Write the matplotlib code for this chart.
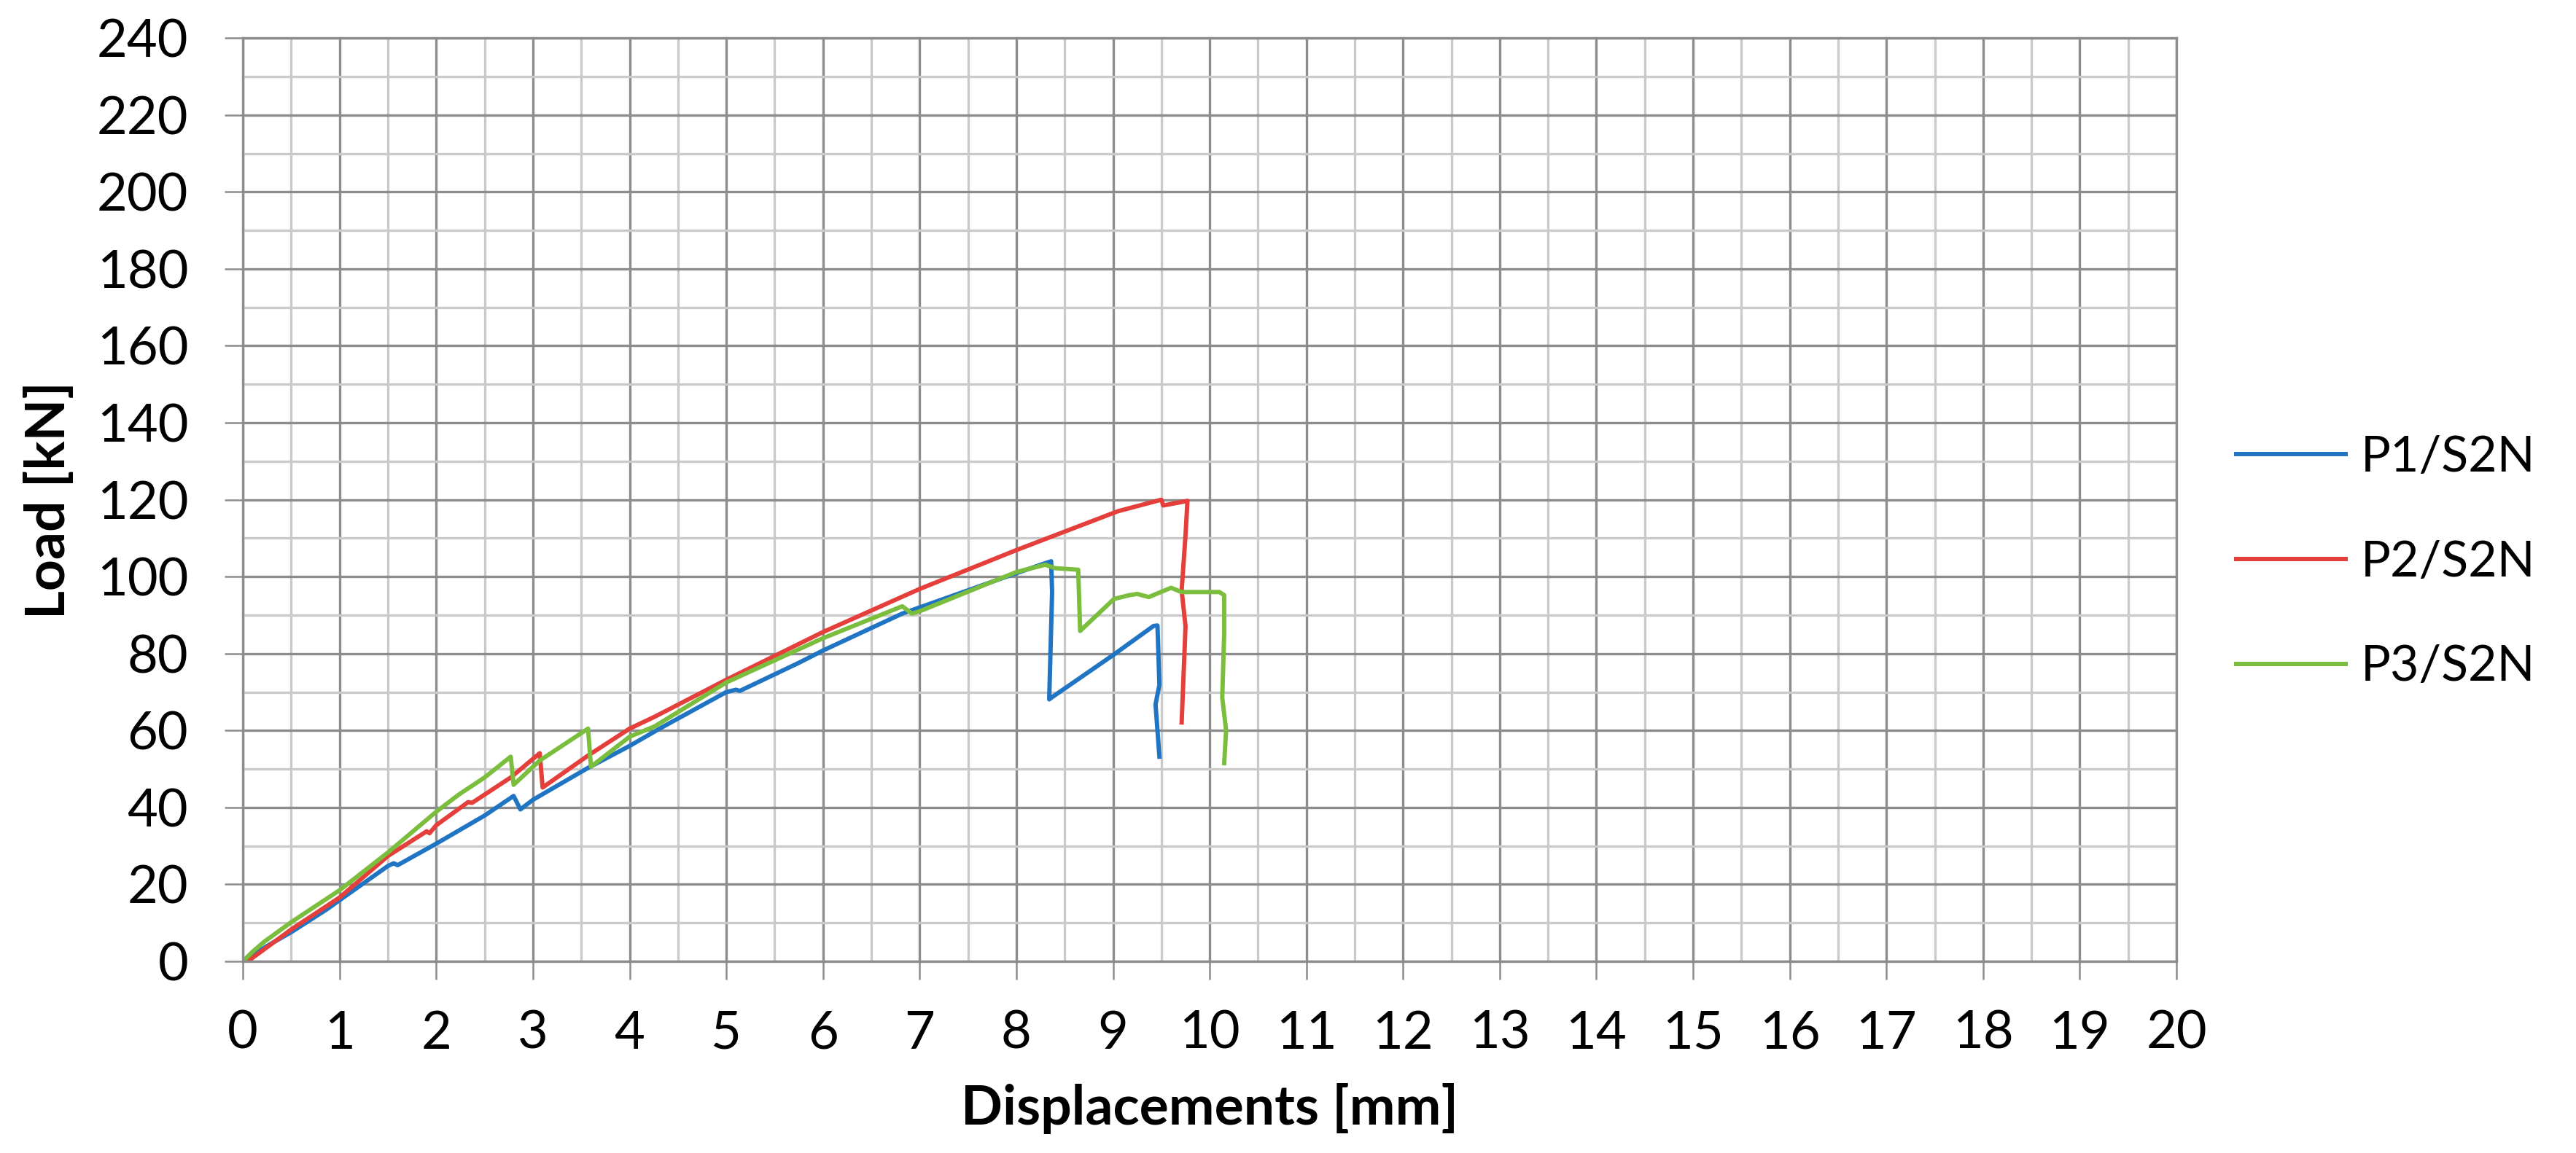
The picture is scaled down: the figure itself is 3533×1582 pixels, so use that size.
import matplotlib
matplotlib.use("Agg")
import matplotlib.pyplot as plt
from matplotlib.ticker import MultipleLocator

# Data (displacement in mm, load in kN)
p1_x = [0, 0.25, 0.5, 0.86, 1.0, 1.5, 1.56, 1.6, 2.0, 2.5, 2.8, 2.87, 3.0, 3.57, 4.0,
        4.31, 5.0, 5.1, 5.14, 5.75, 6.0, 6.82, 7.0, 8.0, 8.3, 8.36, 8.37, 8.34, 8.36,
        9.0, 9.42, 9.46, 9.48, 9.44, 9.48]
p1_y = [0, 4, 7.6, 13.4, 15.9, 24.8, 25.5, 25.0, 30.6, 37.9, 43, 39.5, 42, 50.3, 56,
        60.5, 70, 70.6, 70.3, 77.6, 80.8, 90.4, 92, 100.9, 103.5, 104, 96, 68.1, 68.5,
        79.6, 87.2, 87.3, 71.9, 66.8, 53.2]

p2_x = [0.05, 0.5, 1.0, 1.5, 1.9, 1.93, 2.0, 2.33, 2.37, 2.77, 3.07, 3.1, 3.57, 4.0,
        4.26, 5.0, 6.0, 7.0, 8.0, 9.05, 9.5, 9.52, 9.77, 9.75, 9.71, 9.75, 9.71]
p2_y = [0, 8.3, 16.6, 27.4, 33.8, 33.3, 35.4, 41.4, 41.2, 47.8, 54.1, 45.2, 53.5, 60.5,
        63.6, 73.2, 85.6, 96.8, 106.9, 117, 120, 118.5, 119.7, 110.8, 96.4, 87.1, 62.1]

p3_x = [0, 0.1, 0.22, 0.5, 1.0, 1.5, 2.0, 2.23, 2.5, 2.77, 2.80, 3.07, 3.57, 3.60, 4.0,
        4.26, 5.0, 6.0, 6.82, 6.92, 7.0, 8.0, 8.3, 8.4, 8.64, 8.66, 9.01, 9.17, 9.25,
        9.37, 9.6, 9.71, 10.1, 10.15, 10.15, 10.13, 10.17, 10.15]
p3_y = [0, 2.5, 5.1, 10.2, 18.5, 28.3, 38.9, 43.3, 47.8, 53.2, 45.9, 52.2, 60.5, 50.6, 58.4,
        61.1, 72.5, 84, 92.3, 90.4, 91, 101.2, 103.1, 102.2, 101.8, 85.9, 94.2, 95.2, 95.5,
        94.7, 97.1, 96, 96, 95.2, 85.4, 68.5, 60, 51.5]

labels = ["P1/S2N", "P2/S2N", "P3/S2N"]
colors = ["#1f74c4", "#e43f3a", "#7bbd3c"]

plt.rcParams['font.family'] = ['Lato', 'DejaVu Sans']

fig = plt.figure(figsize=(35.33, 15.82), dpi=100)
ax = fig.add_axes([0.0943, 0.1662, 0.7506, 0.8008])

for xs, ys, lab, c in zip([p1_x, p2_x, p3_x], [p1_y, p2_y, p3_y], labels, colors):
    ax.plot(xs, ys, color=c, lw=4.3, label=lab, solid_joinstyle='round')

ax.set_xlim(0, 20)
ax.set_ylim(0, 240)
ax.xaxis.set_major_locator(MultipleLocator(1))
ax.xaxis.set_minor_locator(MultipleLocator(0.5))
ax.yaxis.set_major_locator(MultipleLocator(20))
ax.yaxis.set_minor_locator(MultipleLocator(10))

ax.set_axisbelow(True)
ax.grid(which='major', color='#8c8c8c', lw=2.4)
ax.grid(which='minor', color='#cacaca', lw=2.4)

for s in ax.spines.values():
    s.set_color('#8c8c8c')
    s.set_linewidth(2.4)

ax.tick_params(which='major', length=18, width=1.8, color='#8c8c8c',
               labelsize=52, direction='out')
ax.tick_params(axis='y', pad=36)
ax.tick_params(axis='x', pad=30)
ax.tick_params(which='minor', length=0)

ax.set_xlabel("Displacements [mm]", fontsize=54, fontweight='bold', va='center')
ax.xaxis.set_label_coords(0.5, -0.159)
ax.set_ylabel("Load [kN]", fontsize=54, fontweight='bold', va='center')
ax.yaxis.set_label_coords(-0.1, 0.5)

ax.legend(loc='center left', bbox_to_anchor=(1.008, 0.432), frameon=False,
          fontsize=49, handlelength=2.2, handletextpad=0.3, labelspacing=1.2)

fig.savefig("out.png", dpi=100)
